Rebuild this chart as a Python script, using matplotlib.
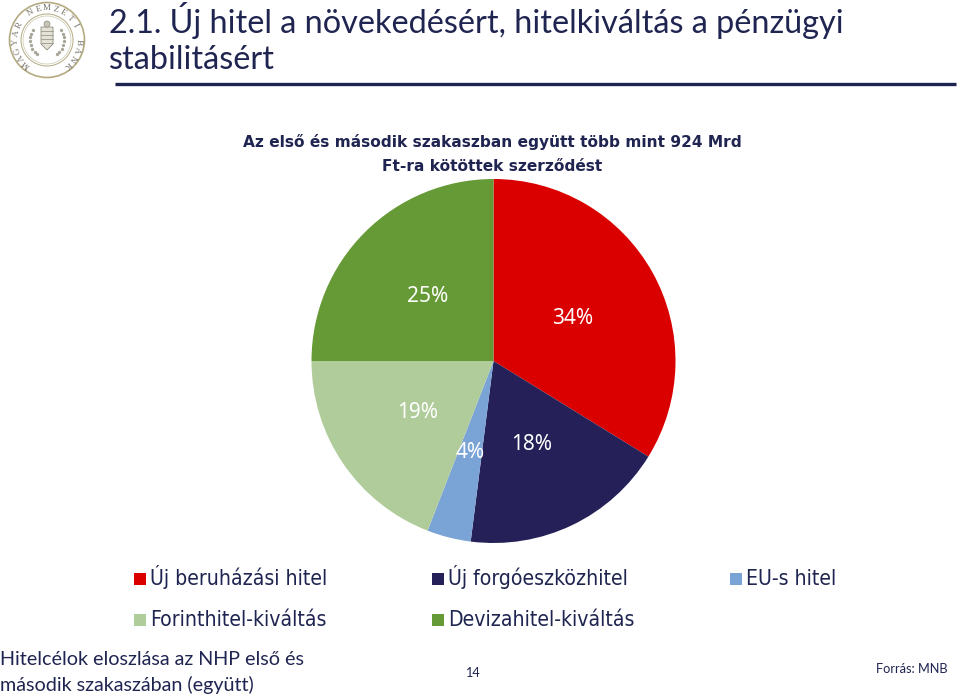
import numpy as np
import matplotlib
matplotlib.use("Agg")
import matplotlib.pyplot as plt
from matplotlib.patches import Circle, Rectangle, Polygon

W, H = 960, 697

labels = ["Új beruházási hitel", "Új forgóeszközhitel", "EU-s hitel",
          "Forinthitel-kiváltás", "Devizahitel-kiváltás"]
values = [33.8, 18.2, 3.9, 19.1, 25.0]
pct_labels = ["34%", "18%", "4%", "19%", "25%"]
colors = ["#DB0000", "#252158", "#7BA4D6", "#B0CC9A", "#669A36"]

title = ["2.1. Új hitel a növekedésért, hitelkiváltás a pénzügyi", "stabilitásért"]
subtitle = ["Az első és második szakaszban együtt több mint 924 Mrd", "Ft-ra kötöttek szerződést"]
note = ["Hitelcélok eloszlása az NHP első és", "második szakaszában (együtt)"]

NAVY = "#1F2550"
GOLD = "#B3AB80"

fig = plt.figure(figsize=(W / 100, H / 100), dpi=100)

# pie, centre (493.5, 361) radius 182 px
R = 182
cx, cy = 493.5, 361
ax = fig.add_axes([(cx - R) / W, 1 - (cy + R) / H, 2 * R / W, 2 * R / H])
ax.pie(values, colors=colors, startangle=90, counterclock=False, radius=1,
       wedgeprops={"linewidth": 0})
ax.set_xlim(-1, 1)
ax.set_ylim(-1, 1)

# overlay in pixel coordinates for the slide furniture
bg = fig.add_axes([0, 0, 1, 1], zorder=2)
bg.set_xlim(0, W)
bg.set_ylim(H, 0)
bg.axis("off")

bg.text(109, 33, title[0], fontsize=23.3, family="Lato", color=NAVY, va="baseline")
bg.text(109, 69, title[1], fontsize=23.3, family="Lato", color=NAVY, va="baseline")
bg.plot([115, 956], [84, 84], color=NAVY, lw=2.4, solid_capstyle="butt")

for i, line in enumerate(subtitle):
    bg.text(492, 147 + 24 * i, line, fontsize=11.1, family="DejaVu Sans", weight="bold",
            color=NAVY, ha="center", va="baseline")

# logo
bg.add_patch(Circle((47, 40), 37.5, fc="white", ec=GOLD, lw=1.2))
bg.add_patch(Circle((47, 40), 26, fc="none", ec=GOLD, lw=0.7))
bg.add_patch(Circle((47, 40), 24, fc="none", ec="#C9C6AE", lw=0.5))
bank = "MAGYAR NEMZETI BANK"
for ch, a in zip(bank, np.linspace(-140, 140, len(bank))):
    r = np.radians(a)
    bg.text(47 + 31.5 * np.sin(r), 40 - 31.5 * np.cos(r), ch, fontsize=6.5, family="Liberation Serif",
            color="#77746A", ha="center", va="center", rotation=-a, rotation_mode="anchor")
bg.add_patch(Polygon([(41, 27), (53, 27), (53, 44), (47, 50), (41, 44)], fc="#E4E2D6", ec="#8F8D80", lw=0.6))
for y in [31, 35, 39, 43]:
    bg.plot([41, 53], [y, y], color="#9A988A", lw=0.6)
bg.add_patch(Circle((47, 24), 3, fc="#C9C6B6", ec="#8F8D80", lw=0.5))
for side in [-1, 1]:
    for a in np.arange(55, 150, 13):
        r = np.radians(a)
        bg.plot(47 + side * 17 * np.sin(r), 40 - 17 * np.cos(r), marker="o", ms=2.4,
                color="#A8A698", mew=0)

pct_pos = [(573, 318), (532, 445), (470, 452), (418, 413), (428, 297)]
for txt, (px, py) in zip(pct_labels, pct_pos):
    bg.text(px, py, txt, fontsize=15, family="Noto Sans", color="white",
            ha="center", va="center", zorder=5)

# legend
leg_pos = [(134, 579), (432, 579), (730, 579), (134, 620), (432, 620)]
for lab, col, (px, py) in zip(labels, colors, leg_pos):
    bg.add_patch(Rectangle((px, py - 6), 12, 12, fc=col, ec="none"))
    bg.text(px + 16, py + 6, lab, fontsize=15.2, family="DejaVu Sans", color=NAVY,
            ha="left", va="baseline", stretch="condensed")

# footer
for i, line in enumerate(note):
    bg.text(0, 665 + 26 * i, line, fontsize=14.2, family="Lato", color=NAVY, va="baseline")
bg.text(472, 677, "14", fontsize=9.2, family="Lato", color=NAVY, ha="center", va="baseline")
bg.text(947, 673, "Forrás: MNB", fontsize=9.2, family="Lato", color=NAVY, ha="right", va="baseline")

fig.savefig("out.png", dpi=100)
